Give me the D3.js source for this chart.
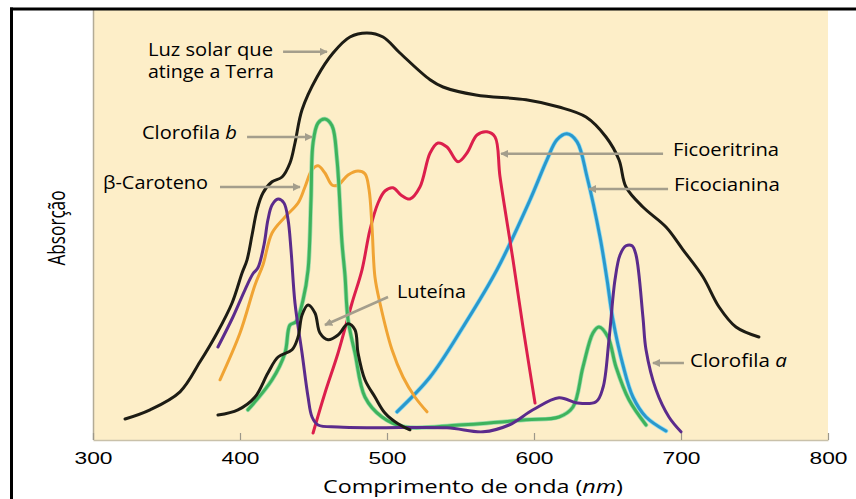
<!DOCTYPE html>
<html>
<head>
<meta charset="utf-8">
<script src="https://cdn.jsdelivr.net/npm/d3@7"></script>
<style>
  body { margin: 0; background: #fff; }
  svg { display: block; font-family: "Open Sans", sans-serif; }
</style>
</head>
<body>
<div class="vis-spectrum"></div>
<script>
// absorption curves, [wavelength nm, relative absorption]
const luzSolar = [[321.8,4.5],[338.8,6.8],[359.2,11.3],[372.8,18.8],[384.4,26],[394.6,33.5],[401.4,41],[404.8,44.3],[408.2,50.5],[411.6,56.8],[415.6,61],[421.8,63.8],[428.6,65],[434,68.5],[437.4,73.5],[442.2,81.8],[452.4,90],[463.3,96],[474.8,100],[486.4,101],[497.3,100],[508.8,96],[529.3,89.3],[538.1,87.5],[560.5,85.5],[594.6,84.3],[617,82.5],[635.4,80],[649,75],[657.8,69.3],[662.6,62.5],[674.1,57.5],[689.8,52.5],[701.4,46.8],[715,40],[725.9,32.5],[737.4,27.5],[753,25]];
const clorofilaB = [[405.4,6.8],[421.8,14.3],[430.6,21],[434,28],[438.1,28.8],[442.9,34.3],[446.3,41.8],[448.3,59.3],[449.7,73.5],[453.1,78.5],[457.8,79.5],[462.6,77.8],[466,69.3],[469.4,48.5],[471.4,40.5],[473.5,29.3],[478.2,21],[485,10],[496.6,5],[512.2,2.5],[549,3],[594.6,4.3],[617,5],[626.5,7.5],[633.3,17.5],[640.1,26],[644.2,27.5],[650.3,25],[655.8,17.5],[664.6,9.3],[676.2,3]];
const clorofilaA = [[385,22.5],[395.2,30],[403.4,36.8],[408.8,40.8],[412.2,42.3],[416.3,48],[419,54.3],[421.8,58],[425.9,59.5],[429.9,58.5],[432.7,54.3],[434.7,46.8],[437.4,33.5],[442.2,21],[446.3,10],[449,5],[453.1,3],[466.7,2.5],[489.8,2.3],[540.8,2.3],[565.3,1.3],[583,3],[599.3,6.8],[617,9.8],[629.3,8.5],[642.2,8.8],[646.9,12.3],[651,24.3],[655.1,39.3],[658.5,45.5],[662.6,47.8],[666.7,47.8],[669.4,45.5],[674.1,30],[676.2,21.8],[683,11.8],[691.8,5],[700,1.3]];
const betaCaroteno = [[386.4,14.3],[400,26],[410.2,38],[415.6,43],[421.8,51],[430.6,55],[439.5,58.5],[444.2,62.5],[449,66.8],[453.1,67.8],[457.8,66],[462.6,63],[466.7,63],[473.5,65.5],[480.3,66.5],[485,65.8],[487.8,61.8],[489.8,52.5],[491.8,40],[495.2,33.5],[503.4,21.8],[510.9,15],[519,10],[527.2,6.3]];
const luteina = [[385,5.5],[398.6,6.8],[410.2,10],[419,16],[425.9,20],[435.4,21.8],[439.5,25],[442.2,30.5],[446.3,33],[451,31],[454.4,26],[459.9,24.3],[466.7,25.5],[473.5,28.3],[478.2,26.8],[480.3,21],[485,14.3],[491.8,10],[498.6,6],[507.5,3.3],[515.6,1.8]];
const ficoeritrina = [[449.7,1],[457.8,11],[466.7,21],[476.2,33.5],[483,41.8],[488.4,51.8],[493.9,58.5],[498.6,61.5],[504.1,62.3],[509.5,60.5],[515.6,59.5],[522.4,62.5],[529.3,71],[534.7,73.5],[540.8,72.5],[548.3,68.8],[554.4,71],[561.2,75.5],[568,76.3],[573.5,75],[576.9,65],[585.7,44.3],[592.5,27.5],[600.7,8.5]];
const ficocianina = [[506.8,6.3],[529.3,15],[551.7,27.5],[574.8,41.8],[597.3,59.3],[608.8,69.3],[615.6,74.3],[622.4,75.8],[629.3,73.8],[636.1,65],[644.9,50],[649.7,39.3],[653.7,29.3],[660.5,18],[667.3,10],[676.2,5],[689.8,1.5]];

const wavelengthTicks = [300, 400, 500, 600, 700, 800];

// labels: text, start [nm, absorption], width px
const labels = [
    { text: ["Luz solar que"], pos: [337.4, 95.3], w: 125 },
    { text: ["atinge a Terra"], pos: [337.4, 89.8], w: 126 },
    { text: ["Clorofila ", "b"], pos: [333.3, 74.5], w: 95 },
    { text: ["β-Caroteno"], pos: [306.8, 62], w: 105 },
    { text: ["Luteína"], pos: [506.8, 34.8], w: 69 },
    { text: ["Ficoeritrina"], pos: [694.6, 70.3], w: 106 },
    { text: ["Ficocianina"], pos: [695.2, 61.5], w: 106 },
    { text: ["Clorofila ", "a"], pos: [706.1, 17.5], w: 97 }
];
// arrows: from -> to, [nm, absorption]
const arrows = [
    [[429.3, 96.3], [459.2, 96.3]],
    [[404.8, 75], [449, 75]],
    [[386.4, 62.5], [440.8, 62.5]],
    [[500.7, 35], [457.8, 28]],
    [[687.8, 70.8], [577.6, 70.8]],
    [[691.2, 62], [637.4, 62]],
    [[702, 18.5], [680.9, 18.5]]
];

const svg = d3.select('.vis-spectrum')
    .append('svg')
    .attr('width', 856)
    .attr('height', 499);

const x = d3.scaleLinear().domain([300, 800]).range([93, 828]);
const y = d3.scaleLinear().domain([0, 100]).range([437, 37]);

// plot background
svg.append('rect')
    .attr('x', x(300)).attr('y', 10)
    .attr('width', x(800) - x(300)).attr('height', 430)
    .attr('fill', '#fdeec8');

svg.append('line')
    .attr('x1', x(300) + 0.5).attr('x2', x(300) + 0.5)
    .attr('y1', 10).attr('y2', 440)
    .attr('stroke', '#b3ab96').attr('stroke-width', 1.5);

// frame (top + left only)
svg.append('line').attr('x1', 10).attr('x2', 856).attr('y1', 9).attr('y2', 9)
    .attr('stroke', '#000').attr('stroke-width', 3);
svg.append('line').attr('x1', 11.5).attr('x2', 11.5).attr('y1', 7.5).attr('y2', 499)
    .attr('stroke', '#000').attr('stroke-width', 3);

// x axis
const xAxis = svg.append('g')
    .attr('transform', 'translate(0,440)')
    .call(d3.axisBottom(x).tickValues(wavelengthTicks).tickSize(-7).tickSizeOuter(0).tickPadding(12));
xAxis.select('.domain').attr('stroke', '#c9c1aa').attr('stroke-width', 1.5);
xAxis.selectAll('.tick line').attr('stroke', '#9c978a').attr('stroke-width', 1.2);
xAxis.selectAll('.tick text')
    .attr('fill', '#000')
    .style('font-size', '17px')
    .attr('textLength', 38)
    .attr('lengthAdjust', 'spacingAndGlyphs');

// axis titles
const xTitle = svg.append('text')
    .attr('x', 323).attr('y', 493)
    .attr('textLength', 300).attr('lengthAdjust', 'spacingAndGlyphs')
    .style('font-size', '18px');
xTitle.append('tspan').text('Comprimento de onda (');
xTitle.append('tspan').style('font-style', 'italic').text('nm');
xTitle.append('tspan').text(')');

// image is stretched horizontally, so the rotated title is thicker
svg.append('text')
    .attr('transform', 'translate(65,228) rotate(-90) scale(1,1.3)')
    .attr('text-anchor', 'middle')
    .attr('textLength', 75)
    .attr('lengthAdjust', 'spacingAndGlyphs')
    .style('font-size', '18px')
    .text('Absorção');

// curves
const line = d3.line()
    .x(d => x(d[0]))
    .y(d => y(d[1]))
    .curve(d3.curveCatmullRom.alpha(0.5));

const series = [
    { data: ficocianina, color: '#2a98cc', halo: '#8fdcf2' },
    { data: ficoeritrina, color: '#dc1f4c' },
    { data: betaCaroteno, color: '#f0a434' },
    { data: clorofilaB, color: '#3eb35c', halo: '#9edcab' },
    { data: clorofilaA, color: '#5b2b8c' },
    { data: luteina, color: '#1d1c14' },
    { data: luzSolar, color: '#1d1c14' }
];

series.forEach(s => {
    if (s.halo) {
        svg.append('path')
            .attr('d', line(s.data))
            .attr('fill', 'none')
            .attr('stroke', s.halo)
            .attr('stroke-width', 4.5)
            .attr('stroke-linecap', 'round');
    }
    svg.append('path')
        .attr('d', line(s.data))
        .attr('fill', 'none')
        .attr('stroke', s.color)
        .attr('stroke-width', 3)
        .attr('stroke-linecap', 'round')
        .attr('stroke-linejoin', 'round');
});

// arrows
svg.append('defs').append('marker')
    .attr('id', 'head')
    .attr('viewBox', '0 0 10 10')
    .attr('refX', 9).attr('refY', 5)
    .attr('markerWidth', 3.2).attr('markerHeight', 3.2)
    .attr('orient', 'auto')
    .append('path')
    .attr('d', 'M0,0 L10,5 L0,10 z')
    .attr('fill', '#a49e8c');

svg.selectAll('.arrow')
    .data(arrows)
    .enter().append('line')
    .attr('class', 'arrow')
    .attr('x1', d => x(d[0][0])).attr('y1', d => y(d[0][1]))
    .attr('x2', d => x(d[1][0])).attr('y2', d => y(d[1][1]))
    .attr('stroke', '#a49e8c')
    .attr('stroke-width', 2.5)
    .attr('marker-end', 'url(#head)');

// labels
const labelG = svg.selectAll('.label')
    .data(labels)
    .enter().append('text')
    .attr('class', 'label')
    .attr('x', d => x(d.pos[0]))
    .attr('y', d => y(d.pos[1]))
    .attr('textLength', d => d.w)
    .attr('lengthAdjust', 'spacingAndGlyphs')
    .style('font-size', '18px');

labelG.each(function (d) {
    const t = d3.select(this);
    t.append('tspan').text(d.text[0]);
    if (d.text[1]) t.append('tspan').style('font-style', 'italic').text(d.text[1]);
});
</script>
</body>
</html>
